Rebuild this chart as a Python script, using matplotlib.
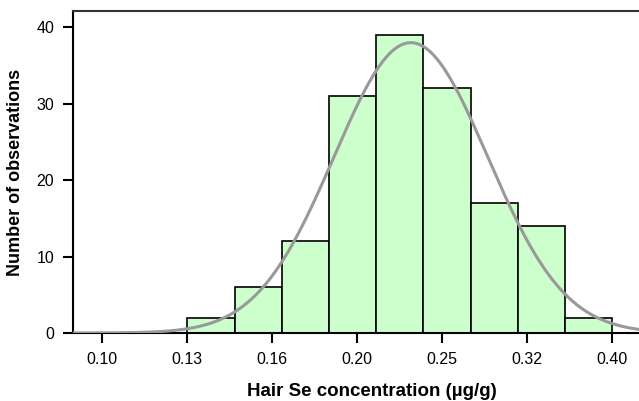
import numpy as np
import matplotlib.pyplot as plt

plt.rcParams['font.family'] = ['Liberation Sans', 'DejaVu Sans']

# histogram of log10(hair Se), 9 equal bins from log10 = -0.9 to -0.4
bin_lo = -0.9
bin_hi = -0.4
counts = [2, 6, 12, 31, 39, 32, 17, 14, 2]

# fitted normal curve (log10 scale)
fit_mean = -0.637
fit_sd = 0.0905

tick_pos = [-1.0, -0.9, -0.8, -0.7, -0.6, -0.5, -0.4]
tick_labels = ['0.10', '0.13', '0.16', '0.20', '0.25', '0.32', '0.40']

edges = np.linspace(bin_lo, bin_hi, len(counts) + 1)
width = edges[1] - edges[0]

fig = plt.figure(figsize=(6.39, 4.01), dpi=100)
# axes run a little past the right edge of the picture, as in the original
ax = fig.add_axes([0.115, 0.1696, 0.9335, 0.803])

ax.bar(edges[:-1], counts, width=width, align='edge',
       color='#ccffcc', edgecolor='black', linewidth=1.2, zorder=2)

xs = np.linspace(-1.034, -0.332, 400)
n = sum(counts)
ys = n * width / (fit_sd * np.sqrt(2 * np.pi)) * np.exp(-0.5 * ((xs - fit_mean) / fit_sd) ** 2)
ax.plot(xs, ys, color='#999999', lw=2.2, zorder=3)

ax.set_xlim(-1.034, -0.332)
ax.set_ylim(0, 42.1)
ax.set_xticks(tick_pos)
ax.set_xticklabels(tick_labels)
ax.set_yticks([0, 10, 20, 30, 40])

for s in ['left', 'bottom', 'top']:
    ax.spines[s].set_linewidth(1.5)
ax.spines['top'].set_color('#333333')
ax.spines['right'].set_visible(False)
ax.tick_params(direction='out', length=7, width=1.5, labelsize=11.5, pad=7)

ax.set_xlabel('Hair Se concentration (µg/g)', fontsize=13.5, fontweight='bold', labelpad=11)
ax.set_ylabel('Number of observations', fontsize=13, fontweight='bold', labelpad=9)

fig.savefig('out.png', dpi=100)
